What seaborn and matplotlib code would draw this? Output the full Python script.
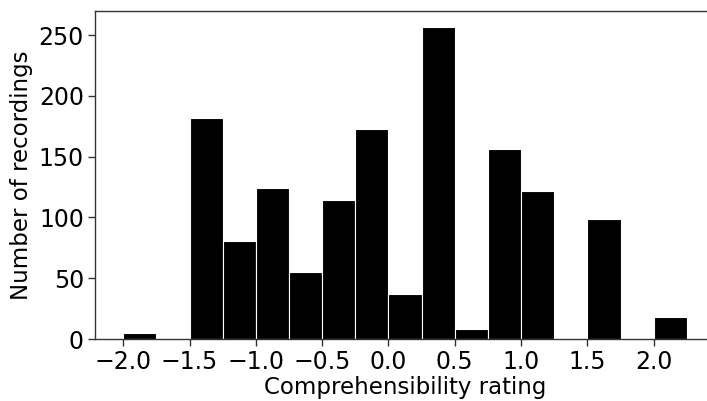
import numpy as np
import pandas as pd
import matplotlib
matplotlib.use("Agg")
import matplotlib.pyplot as plt
import seaborn as sns

bin_starts = [-2.0, -1.75, -1.5, -1.25, -1.0, -0.75, -0.5, -0.25, 0.0,
              0.25, 0.5, 0.75, 1.0, 1.25, 1.5, 1.75, 2.0]
counts = [5, 0, 182, 81, 124, 55, 114, 173, 37, 257, 8, 156, 122, 1, 99, 0, 18]
bin_width = 0.25
xticks = [-2.0, -1.5, -1.0, -0.5, 0.0, 0.5, 1.0, 1.5, 2.0]
yticks = [0, 50, 100, 150, 200, 250]

sns.set_style("ticks")
plt.rcParams['font.family'] = ['DejaVu Sans']
plt.rcParams['text.color'] = 'black'
plt.rcParams['axes.labelcolor'] = 'black'
plt.rcParams['xtick.color'] = 'black'
plt.rcParams['ytick.color'] = 'black'

df = pd.DataFrame({"rating": np.array(bin_starts) + bin_width / 2,
                   "count": counts})
edges = list(bin_starts) + [bin_starts[-1] + bin_width]

fig = plt.figure(figsize=(7.07, 4.01), dpi=100)
ax = fig.add_axes([0.1344, 0.1546, 0.877, 0.818])
sns.histplot(data=df, x="rating", weights="count", bins=edges, ax=ax,
             color="black", alpha=1.0, edgecolor="white", linewidth=0.8)

ax.set_xticks(xticks)
ax.set_yticks(yticks)
ax.set_xlabel("Comprehensibility rating", fontsize=16.5, color="black",
              labelpad=1)
ax.set_ylabel("Number of recordings", fontsize=16.5, color="black")
ax.tick_params(axis="both", labelsize=17, length=5, width=1, pad=3,
               color="#333333", labelcolor="black")
for s in ax.spines.values():
    s.set_color("#333333")
    s.set_linewidth(1.0)

fig.savefig("out.png", dpi=100)
